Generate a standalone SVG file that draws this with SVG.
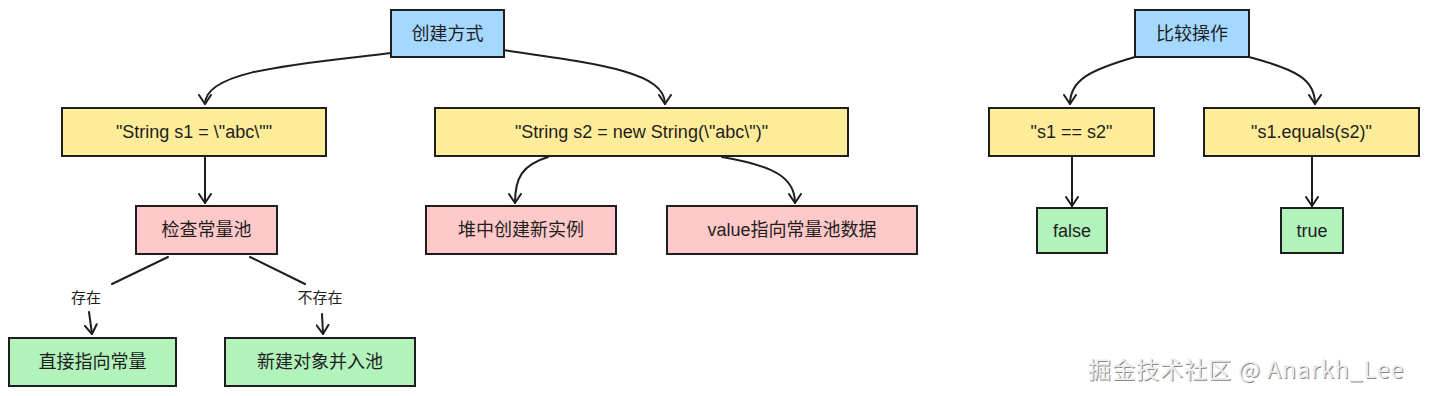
<svg xmlns="http://www.w3.org/2000/svg" width="1429" height="396" viewBox="0 0 1429 396">
<style>
.n rect{stroke:#1e1e1e;stroke-width:2}
.blue{fill:#a5d8ff}.yel{fill:#ffec99}.red{fill:#ffc9c9}.grn{fill:#b2f2bb}
text{font-family:"Liberation Sans","Noto Sans CJK SC",sans-serif;font-size:18px;fill:#1e1e1e;text-anchor:middle;dominant-baseline:central}
.lbl{font-size:15px}
.e path{fill:none;stroke:#1e1e1e;stroke-width:2;stroke-linecap:round;marker-end:url(#ah)}
.wm{font-size:23px;letter-spacing:1px;text-anchor:start;font-family:"Noto Sans CJK SC","Liberation Sans",sans-serif}
</style>
<defs>
<marker id="ah" markerWidth="14" markerHeight="14" refX="10" refY="7" orient="auto" markerUnits="userSpaceOnUse">
<path d="M1,1 L10,7 L1,13" fill="none" stroke="#1e1e1e" stroke-width="2" stroke-linecap="round" stroke-linejoin="round"/>
</marker>
</defs>
<rect width="1429" height="396" fill="#ffffff"/>
<g class="e" id="connectors">
<path d="M391 53 C300 64 205 70 205 104"/>
<path d="M503 50 C600 64 665 72 665 104"/>
<path d="M205 157 L205 203"/>
<path d="M168 257 L112 284 M89 312 L92 334"/>
<path d="M250 257 L305 284 M322 314 L323 334"/>
<path d="M548 157 C522 165 515 178 515 203"/>
<path d="M722 157 C775 166 795 178 795 203"/>
<path d="M1135 57 C1090 70 1070 80 1070 104"/>
<path d="M1249 57 C1298 70 1315 80 1315 104"/>
<path d="M1072 157 L1072 206"/>
<path d="M1312 157 L1312 206"/>
<text class="lbl" x="86" y="297">存在</text>
<text class="lbl" x="320" y="297">不存在</text>
</g>
<g class="n" id="create"><rect class="blue" x="391" y="10" width="113" height="47"/><text x="447.5" y="33.5">创建方式</text></g>
<g class="n" id="s1"><rect class="yel" x="62" y="108" width="264" height="48"/><text x="194" y="132">"String s1 = \"abc\""</text></g>
<g class="n" id="s2"><rect class="yel" x="435" y="108" width="413" height="48"/><text x="641.5" y="132">"String s2 = new String(\"abc\")"</text></g>
<g class="n" id="check"><rect class="red" x="136" y="206" width="141" height="48"/><text x="206.5" y="230">检查常量池</text></g>
<g class="n" id="direct"><rect class="grn" x="9" y="338" width="167" height="48"/><text x="92.5" y="362">直接指向常量</text></g>
<g class="n" id="newobj"><rect class="grn" x="225" y="338" width="190" height="48"/><text x="320" y="362">新建对象并入池</text></g>
<g class="n" id="heap"><rect class="red" x="426" y="206" width="190" height="48"/><text x="521" y="230">堆中创建新实例</text></g>
<g class="n" id="value"><rect class="red" x="667" y="206" width="250" height="48"/><text x="792" y="230">value指向常量池数据</text></g>
<g class="n" id="compare"><rect class="blue" x="1135" y="10" width="114" height="47"/><text x="1192" y="33.5">比较操作</text></g>
<g class="n" id="eq"><rect class="yel" x="989" y="108" width="165" height="48"/><text x="1071.5" y="132">"s1 == s2"</text></g>
<g class="n" id="equals"><rect class="yel" x="1204" y="108" width="215" height="48"/><text x="1311.5" y="132">"s1.equals(s2)"</text></g>
<g class="n" id="false"><rect class="grn" x="1037" y="208" width="70" height="45"/><text x="1072" y="230.5">false</text></g>
<g class="n" id="true"><rect class="grn" x="1281" y="208" width="62" height="45"/><text x="1312" y="230.5">true</text></g>
<g id="watermark">
<text class="wm" x="1089" y="369" style="fill:#8a8a8a">掘金技术社区 @ Anarkh_Lee</text>
<text class="wm" x="1088" y="368" style="fill:#eeeeee">掘金技术社区 @ Anarkh_Lee</text>
</g>
</svg>
